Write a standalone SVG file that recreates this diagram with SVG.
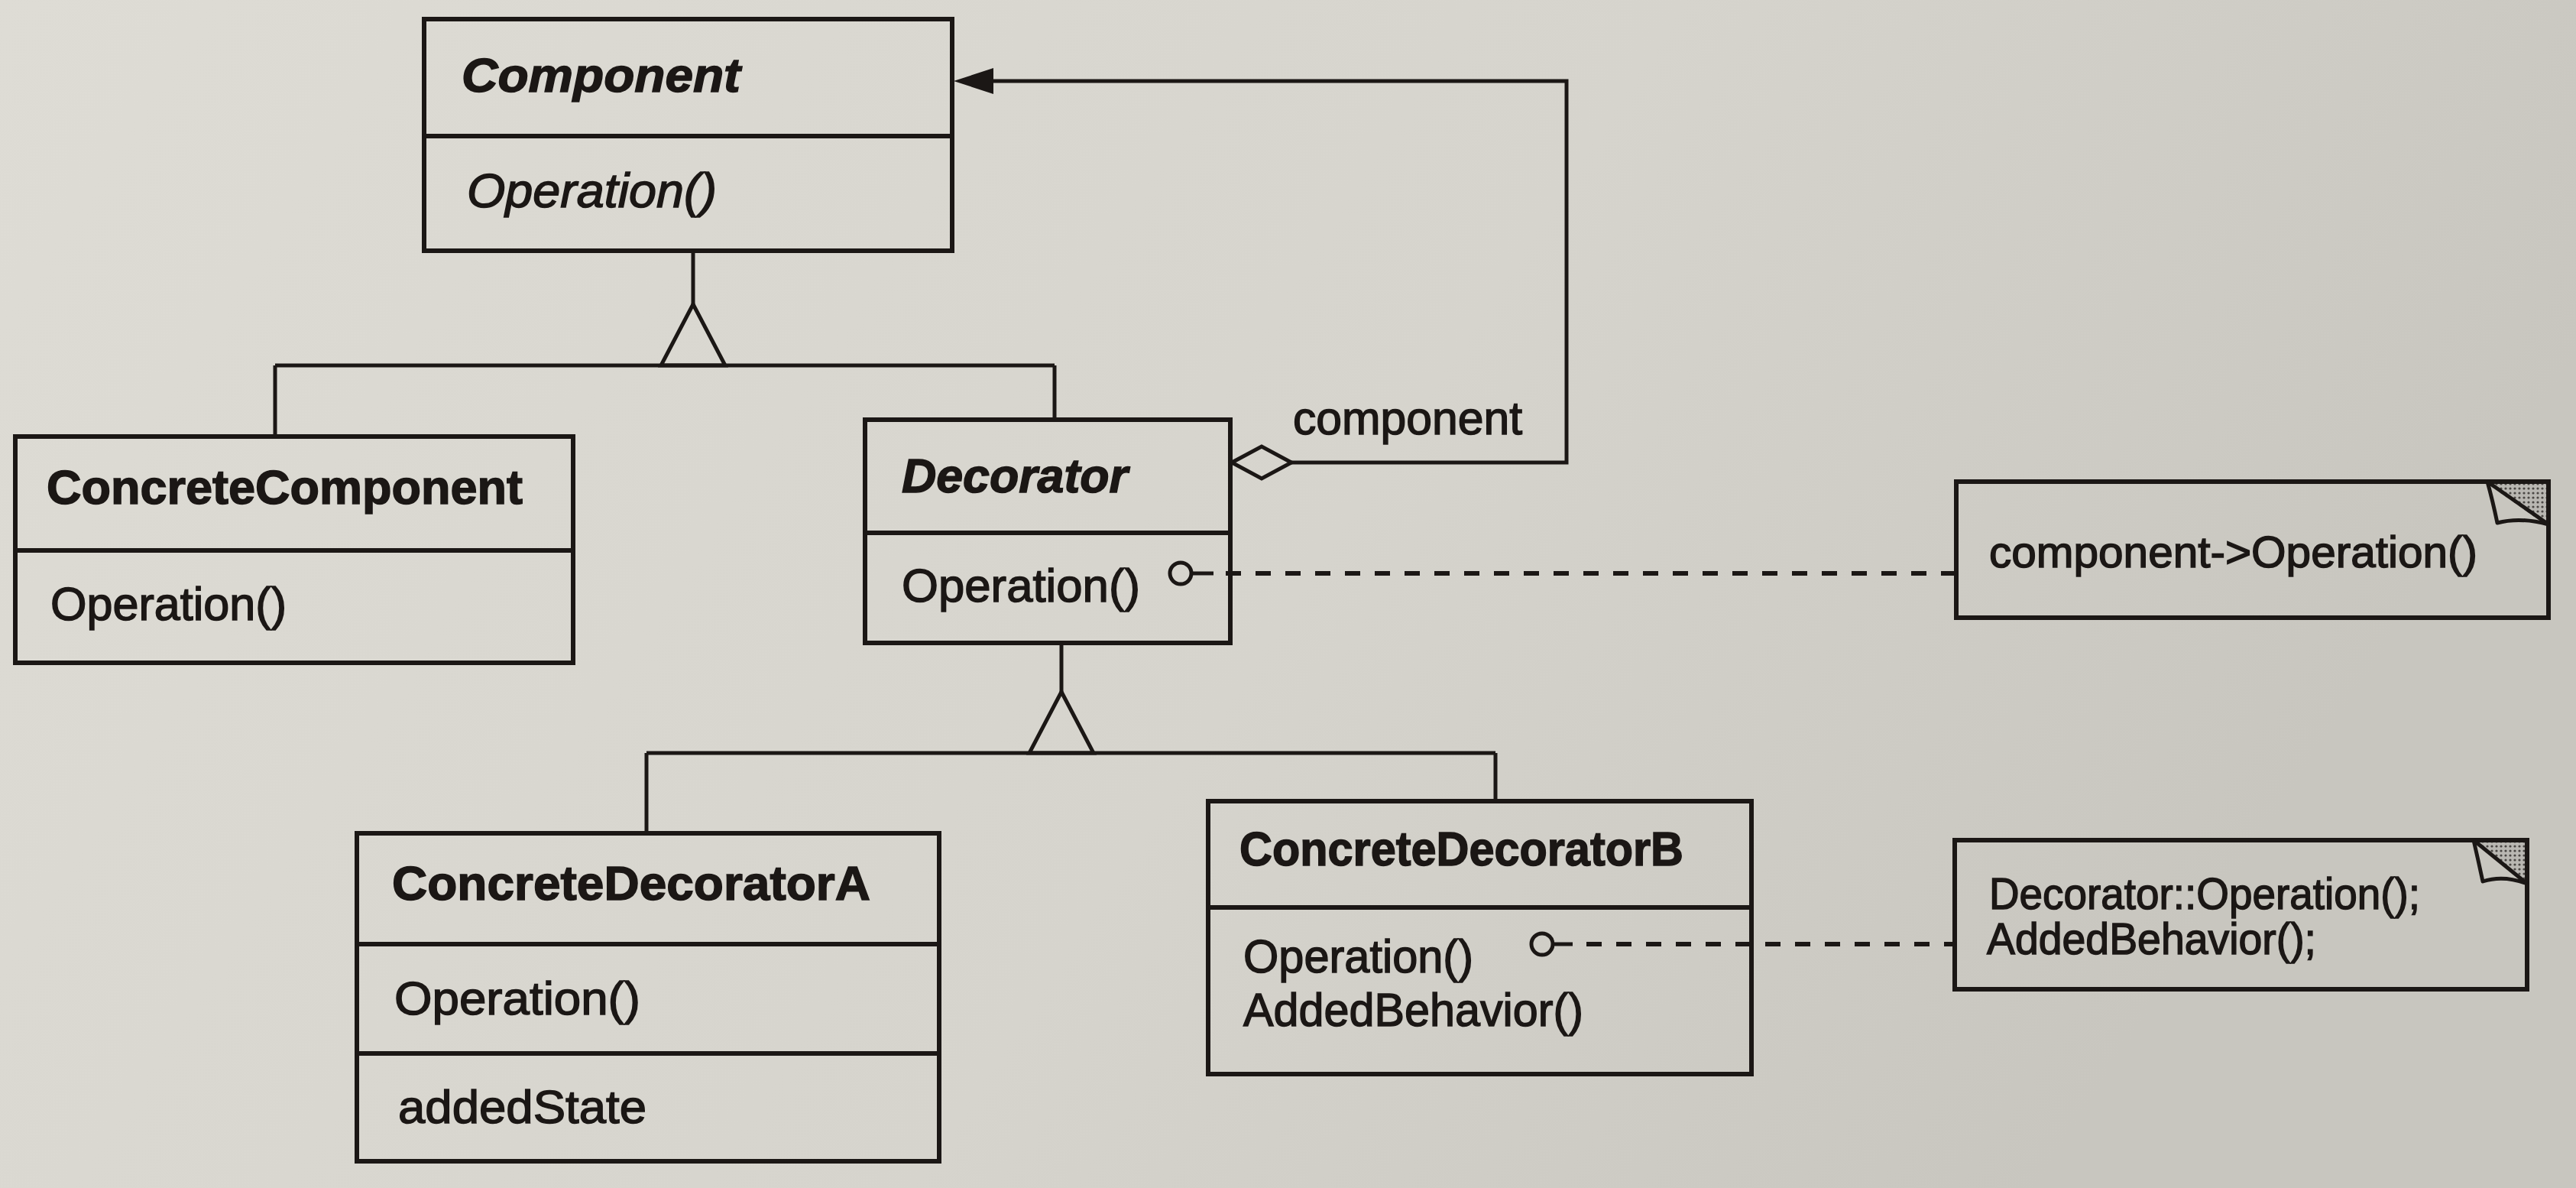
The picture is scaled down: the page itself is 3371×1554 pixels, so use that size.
<svg xmlns="http://www.w3.org/2000/svg" width="3371" height="1554" viewBox="0 0 3371 1554">
  <defs>
    <linearGradient id="paper" x1="0" y1="0" x2="1" y2="0.3">
      <stop offset="0" stop-color="#dedcd5"/>
      <stop offset="0.6" stop-color="#d6d4cd"/>
      <stop offset="1" stop-color="#c8c6bf"/>
    </linearGradient>
    <pattern id="stipple" width="6" height="6" patternUnits="userSpaceOnUse">
      <rect width="6" height="6" fill="#b9b7b2"/>
      <circle cx="3" cy="3" r="1.6" fill="#4a4744"/>
    </pattern>
    <style>
      .box { fill: none; stroke: #1b1715; stroke-width: 6; }
      .div { stroke: #1b1715; stroke-width: 6; }
      .ln { fill: none; stroke: #1b1715; stroke-width: 5; }
      .dash { fill: none; stroke: #1b1715; stroke-width: 6; stroke-dasharray: 20 19; }
      .tri { fill: none; stroke: #1b1715; stroke-width: 5; stroke-linejoin: miter; }
      .dot { fill: none; stroke: #1b1715; stroke-width: 5; }
      text { font-family: "Liberation Sans", Arial, Helvetica, sans-serif; fill: #1b1715; stroke: #1b1715; stroke-width: 1.5; }
      .name { font-size: 63px; font-weight: bold; }
      .abs { font-size: 63px; font-weight: bold; font-style: italic; }
      .op { font-size: 62px; }
      .opi { font-size: 63px; font-style: italic; }
      .lbl { font-size: 61px; }
      .note { font-size: 58px; }
      .ear { fill: url(#stipple); stroke: none; }
      .flap { fill: none; stroke: #1b1715; stroke-width: 5; stroke-linejoin: round; }
    </style>
  </defs>

  <rect x="0" y="0" width="3371" height="1554" fill="url(#paper)"/>

  <g id="connectors">
    <!-- Component generalization -->
    <path class="ln" d="M907,328 V398"/>
    <path class="tri" d="M907,398 L865,478 L949,478 Z"/>
    <path class="ln" d="M360,478 H1380 M360,478 V571 M1380,478 V549"/>
    <!-- Decorator generalization -->
    <path class="ln" d="M1389,841 V905"/>
    <path class="tri" d="M1389,905 L1347,985 L1431,985 Z"/>
    <path class="ln" d="M846,985 H1957 M846,985 V1090 M1957,985 V1048"/>
    <!-- Aggregation: Decorator component -> Component -->
    <path class="tri" d="M1612,605 L1651,584 L1690,605 L1651,626 Z"/>
    <path class="ln" d="M1690,605 H2050 V106 H1296"/>
    <polygon points="1248,106 1300,89 1300,123" fill="#1b1715"/>
    <text class="lbl" x="1692" y="568" textLength="300" lengthAdjust="spacingAndGlyphs">component</text>
    <!-- note links -->
    <circle class="dot" cx="1545" cy="750" r="14"/>
    <path class="ln" d="M1559,750 H1588"/>
    <path class="dash" d="M1604,750 H2560"/>
    <circle class="dot" cx="2018" cy="1235" r="14"/>
    <path class="ln" d="M2032,1235 H2058"/>
    <path class="dash" d="M2076,1235 H2558"/>
  </g>

  <g id="Component">
    <rect class="box" x="555" y="25" width="691" height="303"/>
    <line class="div" x1="555" y1="178" x2="1246" y2="178"/>
    <text class="abs" x="604" y="120" textLength="365" lengthAdjust="spacingAndGlyphs">Component</text>
    <text class="opi" x="611" y="271" textLength="327" lengthAdjust="spacingAndGlyphs">Operation()</text>
  </g>

  <g id="ConcreteComponent">
    <rect class="box" x="20" y="571" width="730" height="296"/>
    <line class="div" x1="20" y1="720" x2="750" y2="720"/>
    <text class="name" x="61" y="659" textLength="623" lengthAdjust="spacingAndGlyphs">ConcreteComponent</text>
    <text class="op" x="66" y="811" textLength="309" lengthAdjust="spacingAndGlyphs">Operation()</text>
  </g>

  <g id="Decorator">
    <rect class="box" x="1132" y="549" width="478" height="292"/>
    <line class="div" x1="1132" y1="697" x2="1610" y2="697"/>
    <text class="abs" x="1180" y="644" textLength="296" lengthAdjust="spacingAndGlyphs">Decorator</text>
    <text class="op" x="1180" y="787" textLength="312" lengthAdjust="spacingAndGlyphs">Operation()</text>
  </g>

  <g id="ConcreteDecoratorA">
    <rect class="box" x="467" y="1090" width="762" height="429"/>
    <line class="div" x1="467" y1="1235" x2="1229" y2="1235"/>
    <line class="div" x1="467" y1="1378" x2="1229" y2="1378"/>
    <text class="name" x="513" y="1177" textLength="626" lengthAdjust="spacingAndGlyphs">ConcreteDecoratorA</text>
    <text class="op" x="516" y="1327" textLength="322" lengthAdjust="spacingAndGlyphs">Operation()</text>
    <text class="op" x="521" y="1469" textLength="325" lengthAdjust="spacingAndGlyphs">addedState</text>
  </g>

  <g id="ConcreteDecoratorB">
    <rect class="box" x="1581" y="1048" width="711" height="357"/>
    <line class="div" x1="1581" y1="1187" x2="2292" y2="1187"/>
    <text class="name" x="1622" y="1132" textLength="581" lengthAdjust="spacingAndGlyphs">ConcreteDecoratorB</text>
    <text class="op" x="1627" y="1272" textLength="301" lengthAdjust="spacingAndGlyphs">Operation()</text>
    <text class="op" x="1627" y="1342" textLength="445" lengthAdjust="spacingAndGlyphs">AddedBehavior()</text>
  </g>

  <g id="Note1">
    <rect class="box" x="2560" y="630" width="775" height="178"/>
    <polygon class="ear" points="3255,633 3332,633 3332,687"/>
    <path class="flap" d="M3255,630 Q3262,655 3268,684 Q3298,676 3335,686"/>
    <path class="flap" d="M3255,630 L3335,686"/>
    <text class="note" x="2603" y="742" textLength="639" lengthAdjust="spacingAndGlyphs">component-&gt;Operation()</text>
  </g>

  <g id="Note2">
    <rect class="box" x="2558" y="1099" width="749" height="195"/>
    <polygon class="ear" points="3237,1102 3304,1102 3304,1154"/>
    <path class="flap" d="M3237,1099 Q3243,1125 3249,1153 Q3276,1144 3307,1156"/>
    <path class="flap" d="M3237,1099 L3307,1156"/>
    <text class="note" x="2603" y="1189" textLength="564" lengthAdjust="spacingAndGlyphs">Decorator::Operation();</text>
    <text class="note" x="2600" y="1248" textLength="431" lengthAdjust="spacingAndGlyphs">AddedBehavior();</text>
  </g>
</svg>
